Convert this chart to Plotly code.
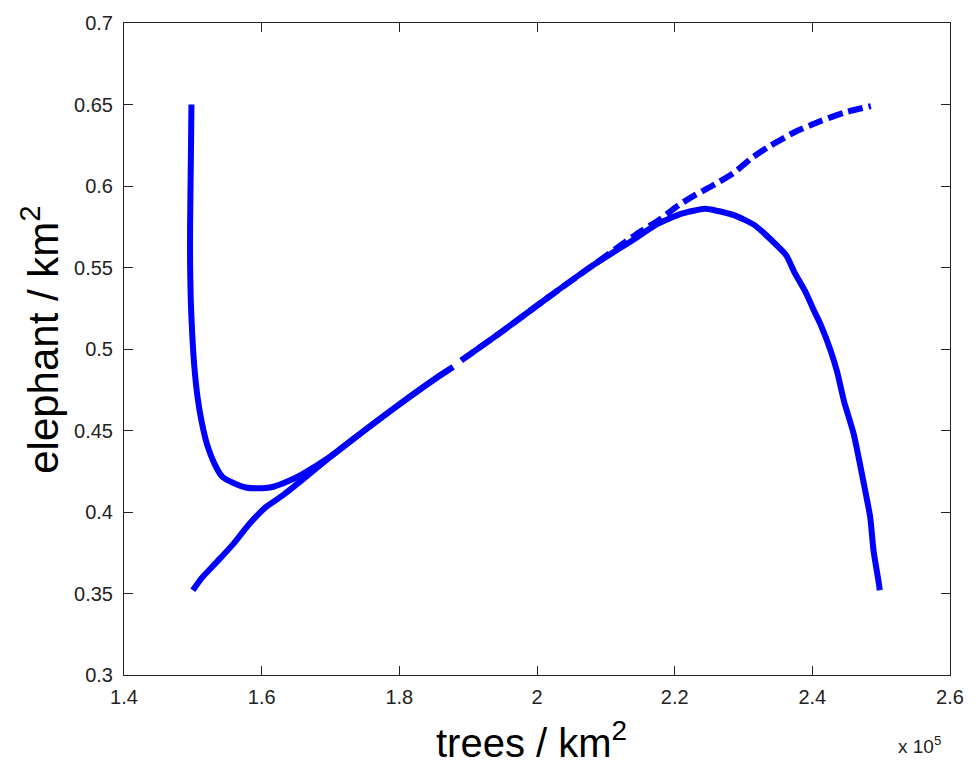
import plotly.graph_objects as go

# Solid trajectory (starts at 1.5e5 trees, 0.65 elephants)
a_x = [1.498, 1.497, 1.496, 1.496, 1.497, 1.499, 1.502, 1.507, 1.513, 1.521,
       1.531, 1.543, 1.563, 1.577, 1.592, 1.617, 1.639, 1.658, 1.700, 1.740,
       1.800, 1.860, 1.878, None, 1.890, 1.950, 2.014, 2.080, 2.140, 2.172,
       2.210, 2.244, 2.259, 2.287, 2.316, 2.340, 2.362, 2.374, 2.390, 2.403,
       2.412, 2.427, 2.436, 2.446, 2.460, 2.475, 2.484, 2.489, 2.496, 2.498]
a_y = [0.650, 0.612, 0.575, 0.553, 0.530, 0.510, 0.490, 0.470, 0.455, 0.441,
       0.430, 0.4215, 0.417, 0.415, 0.4145, 0.4155, 0.419, 0.423, 0.434, 0.447,
       0.466, 0.484, 0.489, None, 0.493, 0.511, 0.531, 0.551, 0.567, 0.576,
       0.583, 0.586, 0.585, 0.582, 0.576, 0.567, 0.5575, 0.547, 0.535, 0.523,
       0.515, 0.4985, 0.486, 0.468, 0.448, 0.417, 0.397, 0.376, 0.358, 0.352]

# Second trajectory (starts at 1.5e5 trees, 0.35 elephants): solid lower part
b1_x = [1.500, 1.514, 1.534, 1.558, 1.582, 1.606, 1.630, 1.654, 1.700, 1.740,
        1.800, 1.860, 1.878]
b1_y = [0.352, 0.360, 0.369, 0.380, 0.3926, 0.403, 0.410, 0.418, 0.434, 0.447,
        0.466, 0.484, 0.489]

# ...and dashed upper part
b2_x = [1.890, 1.950, 2.014, 2.080, 2.143, 2.180, 2.205, 2.230, 2.254, 2.287,
        2.310, 2.335, 2.374, 2.413, 2.446, 2.485]
b2_y = [0.493, 0.511, 0.531, 0.551, 0.570, 0.580, 0.588, 0.5945, 0.600, 0.6084,
        0.6165, 0.6237, 0.633, 0.640, 0.645, 0.649]

x_ticks = [1.4, 1.6, 1.8, 2.0, 2.2, 2.4, 2.6]
x_tick_labels = ["1.4", "1.6", "1.8", "2", "2.2", "2.4", "2.6"]
y_ticks = [0.3, 0.35, 0.4, 0.45, 0.5, 0.55, 0.6, 0.65, 0.7]
y_tick_labels = ["0.3", "0.35", "0.4", "0.45", "0.5", "0.55", "0.6", "0.65", "0.7"]

BLUE = "#0000FF"
INK = "#222222"
FONT = "Liberation Sans, Arial, sans-serif"

fig = go.Figure()
fig.add_trace(go.Scatter(x=a_x, y=a_y, mode="lines", connectgaps=False,
                         line=dict(color=BLUE, width=6, shape="spline", smoothing=0.6),
                         showlegend=False))
fig.add_trace(go.Scatter(x=b1_x, y=b1_y, mode="lines",
                         line=dict(color=BLUE, width=6, shape="spline", smoothing=0.6),
                         showlegend=False))
fig.add_trace(go.Scatter(x=b2_x, y=b2_y, mode="lines",
                         line=dict(color=BLUE, width=6, dash="15px,6px",
                                   shape="spline", smoothing=0.6),
                         showlegend=False))

axis_common = dict(showgrid=False, zeroline=False, showline=True, mirror="ticks",
                   linecolor=INK, linewidth=1, ticks="inside", ticklen=9,
                   tickcolor=INK, tickwidth=1,
                   tickfont=dict(family=FONT, size=20, color=INK))

fig.update_xaxes(range=[1.4, 2.6], tickvals=x_ticks, ticktext=x_tick_labels,
                 ticklabelstandoff=4, **axis_common)
fig.update_yaxes(range=[0.3, 0.7], tickvals=y_ticks, ticktext=y_tick_labels,
                 ticklabelstandoff=6, **axis_common)

fig.add_annotation(text="elephant / km<sup>2</sup>", xref="paper", yref="paper",
                   x=-0.101, y=0.515, textangle=-90, showarrow=False,
                   xanchor="center", yanchor="middle",
                   font=dict(family=FONT, size=42, color="#000000"))
fig.add_annotation(text="trees / km<sup>2</sup>", xref="paper", yref="paper",
                   x=0.4934, y=-0.100, showarrow=False,
                   xanchor="center", yanchor="middle",
                   font=dict(family=FONT, size=40, color="#000000"))
fig.add_annotation(text="x 10<sup>5</sup>", xref="paper", yref="paper",
                   x=0.963, y=-0.107, showarrow=False,
                   xanchor="center", yanchor="middle",
                   font=dict(family=FONT, size=19, color=INK))

fig.update_layout(width=976, height=766,
                  margin=dict(l=124, r=19, t=20, b=91),
                  paper_bgcolor="white", plot_bgcolor="white")

fig.write_html("out.html", config={"displayModeBar": False},
               post_script="document.body.style.margin='0px';")
